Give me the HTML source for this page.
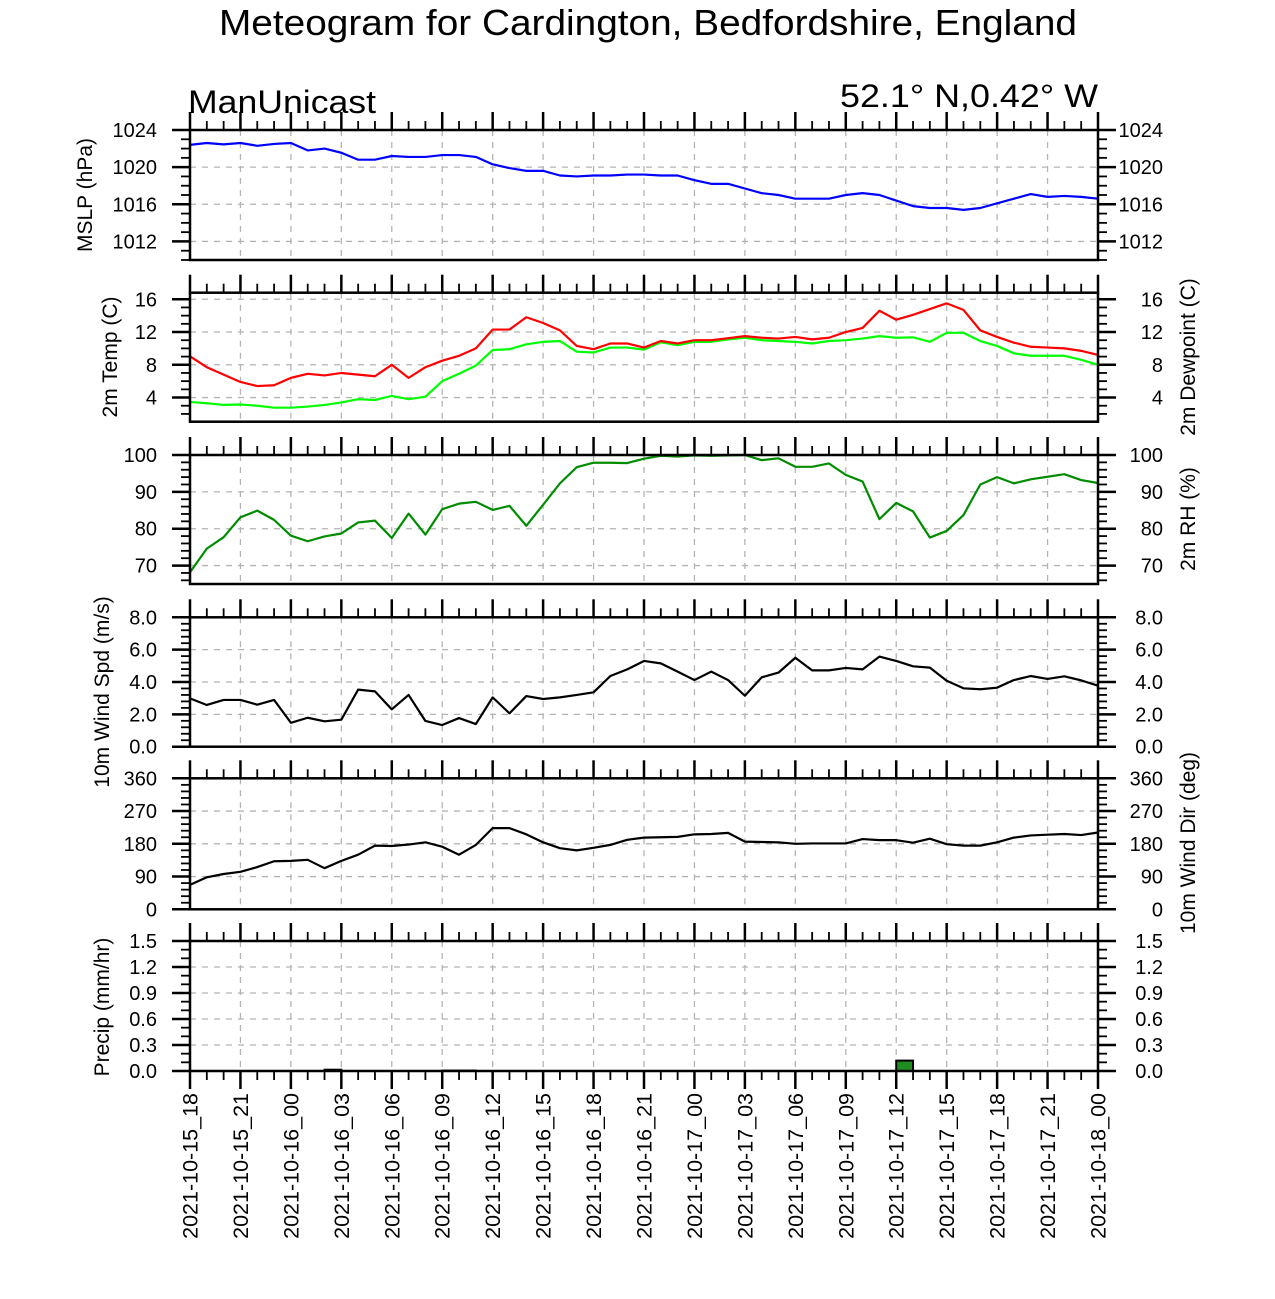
<!DOCTYPE html>
<html>
<head>
<meta charset="utf-8">
<style>
  html,body{margin:0;padding:0;background:#fff;}
  svg{display:block;font-family:"Liberation Sans",Arial,sans-serif;}
</style>
</head>
<body>
<svg id="chart" width="1275" height="1299" viewBox="0 0 1275 1299" xmlns="http://www.w3.org/2000/svg">
  <rect x="0" y="0" width="1275" height="1299" fill="#fff"/>
  <text x="648" y="35" text-anchor="middle" font-size="36" textLength="858" lengthAdjust="spacingAndGlyphs">Meteogram for Cardington, Bedfordshire, England</text>
  <text x="188" y="113" font-size="32" textLength="188" lengthAdjust="spacingAndGlyphs">ManUnicast</text>
  <text x="1098" y="107" text-anchor="end" font-size="32" textLength="258" lengthAdjust="spacingAndGlyphs">52.1° N,0.42° W</text>
  <g id="plots"></g>
</svg>
<script>
const timeLabels = ["2021-10-15_18","2021-10-15_21","2021-10-16_00","2021-10-16_03","2021-10-16_06","2021-10-16_09","2021-10-16_12","2021-10-16_15","2021-10-16_18","2021-10-16_21","2021-10-17_00","2021-10-17_03","2021-10-17_06","2021-10-17_09","2021-10-17_12","2021-10-17_15","2021-10-17_18","2021-10-17_21","2021-10-18_00"];
const mslp = [1022.4,1022.6,1022.45,1022.6,1022.3,1022.5,1022.6,1021.8,1022.0,1021.55,1020.8,1020.8,1021.2,1021.1,1021.1,1021.3,1021.3,1021.1,1020.3,1019.9,1019.6,1019.6,1019.1,1019.0,1019.1,1019.1,1019.2,1019.2,1019.1,1019.1,1018.6,1018.2,1018.2,1017.7,1017.2,1017.0,1016.6,1016.6,1016.6,1017.0,1017.2,1017.0,1016.4,1015.8,1015.6,1015.6,1015.4,1015.6,1016.1,1016.6,1017.1,1016.8,1016.9,1016.8,1016.6];
const temp = [9.03,7.7,6.8,5.9,5.4,5.5,6.4,6.9,6.7,7.0,6.8,6.6,8.0,6.4,7.7,8.5,9.1,10.0,12.3,12.3,13.8,13.1,12.2,10.3,9.9,10.6,10.6,10.1,10.9,10.6,11.0,11.0,11.25,11.5,11.3,11.2,11.4,11.1,11.3,12.0,12.5,14.6,13.5,14.1,14.8,15.5,14.7,12.2,11.4,10.7,10.2,10.1,10.0,9.7,9.2];
const dewpoint = [3.46,3.3,3.1,3.15,3.0,2.76,2.76,2.9,3.1,3.4,3.8,3.7,4.2,3.8,4.1,6.0,6.9,7.9,9.8,9.9,10.5,10.8,10.9,9.6,9.5,10.1,10.1,9.85,10.75,10.4,10.8,10.8,11.1,11.3,11.0,10.9,10.8,10.6,10.9,11.0,11.2,11.5,11.3,11.35,10.8,11.9,11.9,10.9,10.3,9.4,9.1,9.1,9.1,8.6,8.0];
const rh = [68.2,74.6,77.7,83.1,84.9,82.4,78.1,76.6,77.9,78.7,81.7,82.2,77.5,84.1,78.4,85.3,86.8,87.3,85.1,86.2,80.8,86.5,92.3,96.7,97.9,97.9,97.8,99.0,99.8,99.6,99.9,99.8,99.9,100,98.6,99.1,96.8,96.8,97.7,94.6,92.8,82.6,87.0,84.7,77.6,79.4,83.7,92.0,94.0,92.3,93.4,94.1,94.8,93.2,92.4];
const windSpd = [2.99,2.58,2.89,2.89,2.6,2.89,1.48,1.79,1.57,1.67,3.53,3.42,2.31,3.2,1.59,1.34,1.77,1.4,3.05,2.06,3.13,2.95,3.05,3.2,3.36,4.37,4.78,5.3,5.15,4.64,4.12,4.64,4.12,3.15,4.29,4.58,5.5,4.72,4.72,4.87,4.78,5.57,5.3,4.97,4.89,4.08,3.61,3.55,3.65,4.12,4.37,4.19,4.35,4.1,3.77];
const windDir = [67,88,97,103,116,132,133,136,113,133,150,175,174,178,184,172,150,177,223,223,206,184,168,162,169,177,191,197,198,199,206,207,210,186,185,184,180,181,181,181,193,190,190,183,194,179,175,175,184,197,203,205,207,204,211];
const precip = [0,0,0,0,0,0,0,0,0.015,0,0,0,0,0,0,0.005,0.005,0,0,0,0,0,0,0,0,0,0,0,0,0,0,0,0,0,0,0,0,0,0,0,0,0,0.12,0,0,0,0,0,0,0,0,0,0,0,0];

const NS = "http://www.w3.org/2000/svg";
const root = document.getElementById("plots");
const X0 = 190, X1 = 1098, NH = 54;
function xPos(i){ return X0 + (X1 - X0) * i / NH; }
function mk(tag, attrs, parent){
  const e = document.createElementNS(NS, tag);
  for (const k in attrs) e.setAttribute(k, attrs[k]);
  (parent || root).appendChild(e);
  return e;
}

function panel(cfg){
  const g = mk("g", {});
  
  
  const yPos = v => cfg.bottom - (v - cfg.min) / (cfg.max - cfg.min) * (cfg.bottom - cfg.top);
  for (let h = 3; h < NH; h += 3){
    const l = mk("line", {x1:xPos(h), x2:xPos(h), y1:cfg.top, y2:cfg.bottom, stroke:"#b4b4b4", "stroke-width":1.3, "stroke-dasharray":"6,6"}, g);
    
    
  }
  cfg.majors.forEach(v => {
    const y = yPos(v);
    if (Math.abs(y - cfg.top) > 1 && Math.abs(y - cfg.bottom) > 1){
      const l = mk("line", {x1:X0, x2:X1, y1:y, y2:y, stroke:"#b4b4b4", "stroke-width":1.3, "stroke-dasharray":"6,6"}, g);
      
      
    }
  });
  if (cfg.bars){
    cfg.bars.forEach((v, i) => {
      if (v <= 0) return;
      const y = yPos(v);
      const r = mk("rect", {x:xPos(i), y:y, width:xPos(i+1)-xPos(i), height:cfg.bottom - y, fill:"#1e8c1e", stroke:"#000", "stroke-width":2}, g);
      
      
    });
  }
  (cfg.series || []).forEach(s => {
    const pts = s.data.map((v, i) => xPos(i).toFixed(2) + "," + yPos(v).toFixed(2)).join(" ");
    const p = mk("polyline", {points:pts, fill:"none", stroke:s.color, "stroke-width":2.2, "stroke-linejoin":"round"}, g);
    
    
  });
  const f = mk("rect", {x:X0, y:cfg.top, width:X1-X0, height:cfg.bottom-cfg.top, fill:"none", stroke:"#000", "stroke-width":2.5}, g);
  
  
  for (let h = 0; h <= NH; h++){
    const len = h % 3 === 0 ? 18 : 9;
    mk("line", {x1:xPos(h), x2:xPos(h), y1:cfg.top, y2:cfg.top - len, stroke:"#000", "stroke-width":h%3===0?2.5:1.8}, g);
    if (cfg.bottomTicks)
      mk("line", {x1:xPos(h), x2:xPos(h), y1:cfg.bottom, y2:cfg.bottom + len, stroke:"#000", "stroke-width":h%3===0?2.5:1.8}, g);
  }
  const start = Math.ceil(cfg.min / cfg.minor - 1e-6) * cfg.minor;
  for (let v = start; v <= cfg.max + 1e-6; v += cfg.minor){
    const y = yPos(v);
    mk("line", {x1:X0, x2:X0-9, y1:y, y2:y, stroke:"#000", "stroke-width":1.8}, g);
    mk("line", {x1:X1, x2:X1+9, y1:y, y2:y, stroke:"#000", "stroke-width":1.8}, g);
  }
  cfg.majors.forEach(v => {
    const y = yPos(v);
    mk("line", {x1:X0, x2:X0-18, y1:y, y2:y, stroke:"#000", "stroke-width":2.5}, g);
    mk("line", {x1:X1, x2:X1+18, y1:y, y2:y, stroke:"#000", "stroke-width":2.5}, g);
    const lab = cfg.fmt(v);
    const tl = mk("text", {x:157, y:y+7, "text-anchor":"end", "font-size":20}, g);
    tl.textContent = lab;
    
    
    const tr = mk("text", {x:1163, y:y+7, "text-anchor":"end", "font-size":20}, g);
    tr.textContent = lab;
    
    
  });
  if (cfg.leftTitle){
    const t = mk("text", {x:0, y:0, "text-anchor":"middle", "font-size":21, transform:`translate(${cfg.leftTitle.x},${cfg.leftTitle.y}) rotate(-90)`}, g);
    t.textContent = cfg.leftTitle.text;
    
    
  }
  if (cfg.rightTitle){
    const t = mk("text", {x:0, y:0, "text-anchor":"middle", "font-size":21, transform:`translate(${cfg.rightTitle.x},${cfg.rightTitle.y}) rotate(-90)`}, g);
    t.textContent = cfg.rightTitle.text;
    
    
  }
}

const f0 = v => String(v), f1 = v => v.toFixed(1);
panel({name:"mslp", top:130, bottom:260, min:1010, max:1024, majors:[1012,1016,1020,1024], minor:1, fmt:f0,
  series:[{name:"mslp-line", data:mslp, color:"#0000ff"}], leftTitle:{x:92, y:195, text:"MSLP (hPa)"}});
panel({name:"temperature", top:292.7, bottom:421.7, min:1.05, max:16.8, majors:[4,8,12,16], minor:1, fmt:f0,
  series:[{name:"dewpoint-line", data:dewpoint, color:"#00ff00"},{name:"temperature-line", data:temp, color:"#ff0000"}],
  leftTitle:{x:117, y:357, text:"2m Temp (C)"}, rightTitle:{x:1195, y:357, text:"2m Dewpoint (C)"}});
panel({name:"humidity", top:455, bottom:584, min:65, max:100, majors:[70,80,90,100], minor:2, fmt:f0,
  series:[{name:"rh-line", data:rh, color:"#008c00"}], rightTitle:{x:1195, y:519, text:"2m RH (%)"}});
panel({name:"wind-speed", top:617.3, bottom:746.7, min:0, max:8, majors:[0,2,4,6,8], minor:0.4, fmt:f1,
  series:[{name:"wind-speed-line", data:windSpd, color:"#000"}], leftTitle:{x:109, y:692, text:"10m Wind Spd (m/s)"}});
panel({name:"wind-direction", top:778.3, bottom:909.3, min:0, max:360, majors:[0,90,180,270,360], minor:18, fmt:f0,
  series:[{name:"wind-direction-line", data:windDir, color:"#000"}], rightTitle:{x:1195, y:843, text:"10m Wind Dir (deg)"}});
panel({name:"precip", top:941, bottom:1071, min:0, max:1.5, majors:[0,0.3,0.6,0.9,1.2,1.5], minor:0.1, fmt:f1,
  bars:precip, bottomTicks:true, leftTitle:{x:109, y:1007, text:"Precip (mm/hr)"}});

timeLabels.forEach((lab, k) => {
  const x = xPos(k * 3);
  const t = mk("text", {x:0, y:0, "text-anchor":"end", "font-size":21.5, transform:`translate(${x+7.5},1093) rotate(-90)`});
  t.textContent = lab;
  
  
});
</script>
</body>
</html>
